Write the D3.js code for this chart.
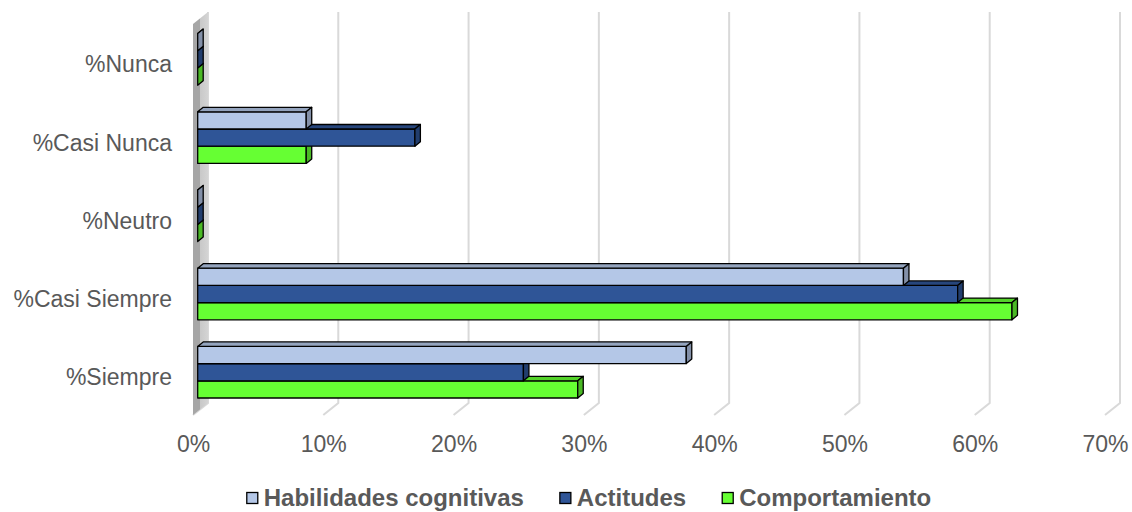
<!DOCTYPE html>
<html>
<head>
<meta charset="utf-8">
<script src="https://cdnjs.cloudflare.com/ajax/libs/d3/7.8.5/d3.min.js"></script>
<style>
body{margin:0;background:#fff;}
svg text{font-family:"Liberation Sans", Arial, sans-serif;fill:#595959;}
</style>
</head>
<body>
<script>
//wrap everything in a self-executing function to keep it local
(function(){

//chart data
var categories = ["%Nunca", "%Casi Nunca", "%Neutro", "%Casi Siempre", "%Siempre"];
var seriesNames = ["Habilidades cognitivas", "Actitudes", "Comportamiento"];
var habilidades = [0, 8.33, 0, 54.17, 37.5];
var actitudes = [0, 16.67, 0, 58.33, 25];
var comportamiento = [0, 8.33, 0, 62.5, 29.17];
var tickValues = [0, 10, 20, 30, 40, 50, 60, 70];
var seriesColors = ["#b4c7e7", "#2f5597", "#66ff33"];

window.onload = setChart;

function setChart(){
    var width = 1132,
        height = 512;

    //front plane of the 3d box, plus offset to the back wall
    var left = 193, right = 1105, top = 24, bottom = 415,
        depthX = 15, depthY = -12;

    //bars sit part way into the box and have their own depth
    var shiftX = 4.7, shiftY = -3.7,
        barDX = 5.5, barDY = -4.5;

    var svg = d3.select("body")
        .append("svg")
        .attr("width", width)
        .attr("height", height);

    var xScale = d3.scaleLinear()
        .domain([0, 70])
        .range([left, right]);

    var yScale = d3.scaleBand()
        .domain(categories)
        .range([top, bottom])
        .paddingInner(0.34)
        .paddingOuter(0.17);

    var ySub = d3.scaleBand()
        .domain(seriesNames)
        .range([0, yScale.bandwidth()]);

    //gridlines on the back wall and across the floor
    svg.append("g")
        .selectAll("path")
        .data(tickValues)
        .enter()
        .append("path")
        .attr("d", function(d){
            var x = xScale(d);
            return "M" + (x + depthX) + "," + (top + depthY) +
                "L" + (x + depthX) + "," + (bottom + depthY) +
                "L" + x + "," + bottom;
        })
        .attr("fill", "none")
        .attr("stroke", "#d9d9d9")
        .attr("stroke-width", 2);

    //side wall
    var grad = svg.append("defs").append("linearGradient")
        .attr("id", "wallGrad")
        .attr("x1", "0").attr("x2", "1").attr("y1", "0").attr("y2", "0");
    grad.append("stop").attr("offset", "0").attr("stop-color", "#a6a6a6");
    grad.append("stop").attr("offset", "0.45").attr("stop-color", "#a6a6a6");
    grad.append("stop").attr("offset", "0.5").attr("stop-color", "#c9c9c9");
    grad.append("stop").attr("offset", "1").attr("stop-color", "#d4d4d4");

    svg.append("path")
        .attr("d", "M" + left + "," + top +
            "L" + (left + depthX) + "," + (top + depthY) +
            "L" + (left + depthX) + "," + (bottom + depthY) +
            "L" + left + "," + bottom + "Z")
        .attr("fill", "url(#wallGrad)");

    //flatten the series into one list of bars
    var seriesValues = [habilidades, actitudes, comportamiento];
    var barData = [];
    categories.forEach(function(cat, i){
        seriesValues.forEach(function(vals, s){
            barData.push({cat: cat, series: seriesNames[s], value: vals[i], color: seriesColors[s]});
        });
    });
    //draw bottom bars first so upper bars cover their tops
    barData.reverse();

    var bars = svg.append("g")
        .selectAll(".bar")
        .data(barData)
        .enter()
        .append("g")
        .attr("class", "bar")
        .attr("stroke", "#000")
        .attr("stroke-width", 1.3)
        .attr("stroke-linejoin", "round");

    function geom(d){
        var x0 = xScale(0) + shiftX,
            x1 = xScale(d.value) + shiftX,
            y0 = yScale(d.cat) + ySub(d.series) + shiftY,
            y1 = y0 + ySub.bandwidth();
        return {x0: x0, x1: x1, y0: y0, y1: y1};
    }

    bars.append("rect")
        .attr("x", function(d){ return geom(d).x0; })
        .attr("y", function(d){ return geom(d).y0; })
        .attr("width", function(d){ var g = geom(d); return g.x1 - g.x0; })
        .attr("height", ySub.bandwidth())
        .attr("fill", function(d){ return d.color; });

    //top face
    bars.append("path")
        .attr("d", function(d){
            var g = geom(d);
            return "M" + g.x0 + "," + g.y0 +
                "L" + (g.x0 + barDX) + "," + (g.y0 + barDY) +
                "L" + (g.x1 + barDX) + "," + (g.y0 + barDY) +
                "L" + g.x1 + "," + g.y0 + "Z";
        })
        .attr("fill", function(d){ return d3.color(d.color).darker(0.55); });

    //end face
    bars.append("path")
        .attr("d", function(d){
            var g = geom(d);
            return "M" + g.x1 + "," + g.y0 +
                "L" + (g.x1 + barDX) + "," + (g.y0 + barDY) +
                "L" + (g.x1 + barDX) + "," + (g.y1 + barDY) +
                "L" + g.x1 + "," + g.y1 + "Z";
        })
        .attr("fill", function(d){ return d3.color(d.color).darker(0.9); });

    //value axis labels
    var xAxis = svg.append("g")
        .attr("transform", "translate(0,436)")
        .call(d3.axisBottom(xScale)
            .tickValues(tickValues)
            .tickSize(0)
            .tickPadding(0)
            .tickFormat(function(d){ return d + "%"; }));
    xAxis.select(".domain").remove();
    xAxis.selectAll("text")
        .attr("font-size", 23)
        .style("font-family", "'Liberation Sans', Arial, sans-serif");

    //category labels
    var yAxis = svg.append("g")
        .attr("transform", "translate(172,2)")
        .call(d3.axisLeft(yScale)
            .tickSize(0)
            .tickPadding(0));
    yAxis.select(".domain").remove();
    yAxis.selectAll("text")
        .attr("font-size", 23)
        .style("font-family", "'Liberation Sans', Arial, sans-serif");

    //legend
    var legend = svg.append("g")
        .attr("class", "legend");
    var items = legend.selectAll(".item")
        .data(seriesNames)
        .enter()
        .append("g")
        .attr("class", "item");
    items.append("rect")
        .attr("width", 11)
        .attr("height", 11)
        .attr("y", -5.5)
        .attr("fill", function(d, i){ return seriesColors[i]; })
        .attr("stroke", "#000")
        .attr("stroke-width", 1.3);
    items.append("text")
        .attr("x", 17)
        .attr("dy", "0.35em")
        .attr("font-size", 24)
        .attr("font-weight", "bold")
        .text(function(d){ return d; });

    //lay items out side by side and centre them
    var gap = 36, pos = 0, offsets = [];
    items.each(function(){
        offsets.push(pos);
        pos += this.getBBox().width + gap;
    });
    var start = 589 - (pos - gap) / 2;
    items.attr("transform", function(d, i){
        return "translate(" + (start + offsets[i]) + ",498)";
    });
}

})();
</script>
</body>
</html>
